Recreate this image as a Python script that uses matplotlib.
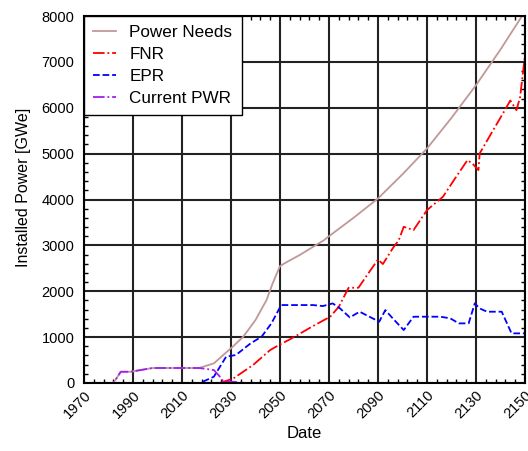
import numpy as np
import matplotlib
matplotlib.use('Agg')
import matplotlib.pyplot as plt

plt.rcParams['font.family'] = ['Liberation Sans', 'DejaVu Sans']

needs_years = [1978, 1982, 1985, 1989, 1998, 2017, 2023, 2031, 2035, 2040, 2044.5, 2047, 2050,
               2053, 2058, 2068, 2070, 2080, 2090, 2100, 2110, 2120, 2130, 2140, 2150]
needs_vals = [0, 0, 245, 245, 327, 327, 428, 806, 1010, 1373, 1808, 2171, 2550,
              2643, 2789, 3115, 3200, 3600, 4023, 4550, 5112, 5780, 6492, 7270, 8100]

fnr_years = [2025.5, 2031, 2039, 2046, 2050, 2054, 2063.5, 2070.5, 2074, 2078, 2082, 2086, 2090,
             2092, 2096, 2098.5, 2100.5, 2104.5, 2110, 2116.5, 2121, 2126.5, 2128.5, 2131, 2131.5,
             2137, 2141, 2144, 2146.5, 2148, 2150]
fnr_vals = [0, 100, 392, 719, 840, 950, 1242, 1445, 1662, 2076, 2076, 2386, 2692,
            2593, 2935, 3115, 3405, 3333, 3769, 4059, 4423, 4858, 4786, 4641, 5004,
            5512, 5875, 6158, 5948, 6230, 7146]

epr_years = [2018.5, 2023, 2025.5, 2028, 2032, 2038, 2042.5, 2046.5, 2050.5, 2063.5, 2067.5, 2071.5,
             2074.5, 2078.5, 2082.5, 2090.5, 2093, 2096, 2100.5, 2104.5, 2115.5, 2119.5, 2123, 2127,
             2129.5, 2131.5, 2134.5, 2140.5, 2144.5, 2150]
epr_vals = [28, 137, 355, 573, 610, 864, 1010, 1300, 1699, 1699, 1677, 1735,
            1626, 1430, 1554, 1336, 1590, 1409, 1155, 1445, 1445, 1409, 1300, 1300,
            1735, 1626, 1554, 1554, 1082, 1082]

pwr_years = [1978, 1982, 1985, 1989, 1998, 2017, 2023, 2025.5, 2027, 2031, 2035.5, 2037]
pwr_vals = [0, 0, 245, 245, 327, 327, 283, 137, 28, 28, 0, 0]

xticks = np.arange(1970, 2151, 20)

fig = plt.figure(figsize=(5.28, 4.51), dpi=100)
ax = fig.add_axes([84/528, 1-383/451, 441/528, 367/451])

ax.plot(needs_years, needs_vals, color='#c09898', lw=1.3, label='Power Needs')
ax.plot(fnr_years, fnr_vals, color='#ff0000', lw=1.3, ls='-.', label='FNR')
ax.plot(epr_years, epr_vals, color='#0000ff', lw=1.3, ls='--', label='EPR')
ax.plot(pwr_years, pwr_vals, color='#a020f0', lw=1.3, ls='-.', label='Current PWR')

ax.set_xlim(1970, 2150)
ax.set_ylim(0, 8000)
ax.set_xticks(xticks)
ax.set_xticks(np.arange(1970, 2151, 4), minor=True)
ax.set_yticks(np.arange(0, 8001, 1000))
ax.set_yticks(np.arange(0, 8001, 200), minor=True)
ax.grid(True, which='major', color='#222222', lw=1.5)
ax.tick_params(which='both', direction='in', top=True, right=True, labelsize=10.5)
ax.tick_params(which='major', length=0)
ax.tick_params(axis='y', which='major', pad=7)
ax.tick_params(which='minor', length=3, width=1)
for lbl in ax.get_xticklabels():
    lbl.set_rotation(45)
    lbl.set_ha('right')
    lbl.set_rotation_mode('anchor')
for s in ax.spines.values():
    s.set_linewidth(1.5)

ax.set_xlabel('Date', fontsize=12)
ax.set_ylabel('Installed Power [GWe]', fontsize=11.5)
ax.yaxis.set_label_coords(-0.12, 0.534)

leg = ax.legend(loc='upper left', fontsize=12.3, fancybox=False, edgecolor='black',
                framealpha=1, borderaxespad=0, handlelength=1.3, handletextpad=0.8,
                borderpad=0.55, labelspacing=0.4)
leg.get_frame().set_linewidth(1)

fig.savefig('out.png', dpi=100)
